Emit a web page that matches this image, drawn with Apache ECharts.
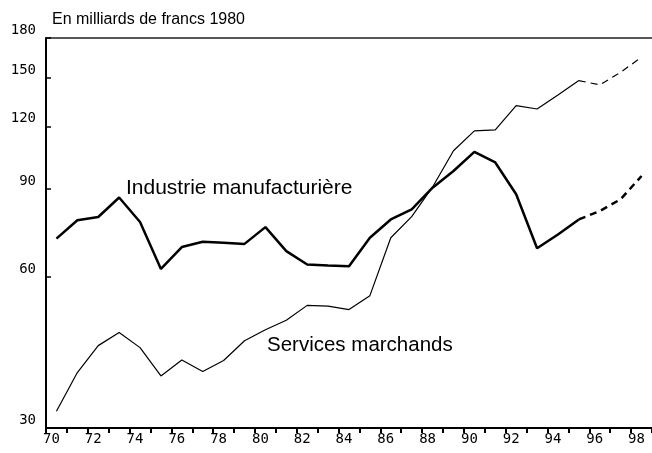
<!DOCTYPE html>
<html>
<head>
<meta charset="utf-8">
<script src="https://cdn.jsdelivr.net/npm/echarts@6/dist/echarts.min.js"></script>
<style>html,body{margin:0;padding:0;background:#fff;}#c{width:652px;height:453px;}</style>
</head>
<body>
<div id="c"></div>
<script>
var years = ['70','71','72','73','74','75','76','77','78','79','80','81','82','83','84','85','86','87','88','89','90','91','92','93','94','95','96','97','98'];
var industrie = [71.6,77.9,79.1,86.5,77.3,62.3,68.9,70.6,70.3,69.9,75.5,67.6,63.6,63.3,63.1,71.9,78.2,81.9,90.5,97.7,106.7,101.6,87.8,68.5,73.0,78.2,81.3,85.8,95.5];
var services = [32.4,38.7,43.8,46.5,43.4,38.1,41.0,38.9,40.9,44.8,47.1,49.2,52.7,52.5,51.7,55.1,71.9,79.2,90.8,107.2,117.5,118.0,131.9,129.9,138.5,148.0,145.1,153.8,164.8];
var yTicks = [30,60,90,120,150,180];
var projStart = 25;

function part(arr, dashed){
  return arr.map(function(v,i){
    if (dashed) return i >= projStart ? v : null;
    return i <= projStart ? v : null;
  });
}

var chart = echarts.init(document.getElementById('c'), null, {renderer:'canvas'});
var tickText = {fontFamily:'DejaVu Sans Mono', fontSize:14, color:'#000'};
chart.setOption({
  animation:false,
  backgroundColor:'#fff',
  grid:{left:46, right:0, top:38, bottom:25},
  xAxis:[{
    type:'category', data:years, boundaryGap:true, position:'bottom',
    axisLine:{show:true, onZero:false, lineStyle:{color:'#000', width:2}},
    axisTick:{show:true, inside:false, length:5, interval:0, lineStyle:{color:'#000', width:2}},
    axisLabel:{interval:1, margin:4, fontFamily:'DejaVu Sans Mono', fontSize:14, color:'#000',
      formatter:function(v){return '{a|'+v+'}';},
      rich:{a:Object.assign({padding:[0,10,0,0]}, tickText)}},
    splitLine:{show:false}
  },{
    type:'category', data:years, position:'top', boundaryGap:true,
    axisLine:{show:true, onZero:false, lineStyle:{color:'#222', width:1.5}},
    axisTick:{show:false}, axisLabel:{show:false}, splitLine:{show:false}
  }],
  yAxis:{
    type:'log', logBase:10, min:30, max:180,
    axisLine:{show:true, onZero:false, lineStyle:{color:'#000', width:2}},
    axisTick:{show:true, inside:true, length:5, customValues:yTicks, lineStyle:{color:'#000', width:1.5}},
    axisLabel:{customValues:yTicks, margin:10, fontFamily:'DejaVu Sans Mono', fontSize:14, color:'#000',
      formatter:function(v){return '{a|'+Math.round(v)+'}';},
      rich:{a:Object.assign({padding:[0,0,15,0]}, tickText)}},
    splitLine:{show:false}, minorTick:{show:false}
  },
  series:[
    {type:'line', data:part(industrie,false), symbol:'none', connectNulls:false, lineStyle:{color:'#000', width:2.5}},
    {type:'line', data:part(industrie,true), symbol:'none', connectNulls:false, lineStyle:{color:'#000', width:2.5, type:[7,5]}},
    {type:'line', data:part(services,false), symbol:'none', connectNulls:false, lineStyle:{color:'#000', width:1.2}},
    {type:'line', data:part(services,true), symbol:'none', connectNulls:false, lineStyle:{color:'#000', width:1.2, type:[7,5]}}
  ],
  graphic:[
    {type:'text', left:52, top:12, style:{text:'En milliards de francs 1980', font:'16px "Liberation Sans", Arial, sans-serif', fill:'#000'}},
    {type:'text', x:126, y:188.5, style:{text:'Industrie manufacturière', font:'21px "Liberation Sans", Arial, sans-serif', fill:'#000', textVerticalAlign:'middle'}},
    {type:'text', x:267, y:345, style:{text:'Services marchands', font:'20.5px "Liberation Sans", Arial, sans-serif', fill:'#000', textVerticalAlign:'middle'}}
  ]
});
</script>
</body>
</html>
